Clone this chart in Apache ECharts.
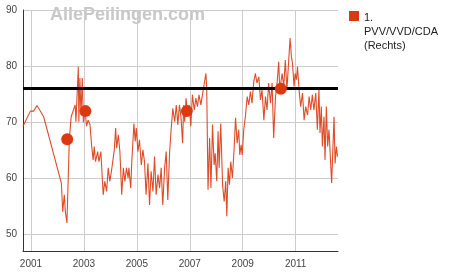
<!DOCTYPE html>
<html>
<head>
<meta charset="utf-8">
<script src="https://cdn.jsdelivr.net/npm/echarts@6/dist/echarts.min.js"></script>
<style>html,body{margin:0;padding:0;background:#fff}#c{width:450px;height:275px}</style>
</head>
<body>
<div id="c"></div>
<script>
const seriesName = "1.\nPVV/VVD/CDA\n(Rechts)";
const watermark = "AllePeilingen.com";
const yTicks = [50, 60, 70, 80, 90];
const xTicks = [2001, 2003, 2005, 2007, 2009, 2011];
const majorityLine = 76;
// poll series: [decimal year, seats]
const pollYears = [
2000.70,2000.98,2001.10,2001.23,2001.48,2002.15,2002.20,2002.26,2002.30,2002.36,2002.45,2002.52,2002.67,2002.70,
2002.79,2002.81,2002.85,2002.89,2002.94,2002.98,2003.04,2003.10,2003.16,2003.23,2003.29,2003.35,2003.39,2003.44,
2003.52,2003.57,2003.64,2003.73,2003.79,2003.86,2003.92,2003.98,2004.05,2004.11,2004.15,2004.20,2004.24,2004.30,
2004.36,2004.43,2004.49,2004.55,2004.61,2004.67,2004.70,2004.77,2004.81,2004.89,2004.94,2004.98,2005.04,2005.10,
2005.17,2005.23,2005.29,2005.35,2005.42,2005.48,2005.54,2005.61,2005.67,2005.73,2005.80,2005.86,2005.92,2005.98,
2006.05,2006.11,2006.17,2006.24,2006.30,2006.36,2006.43,2006.49,2006.55,2006.61,2006.67,2006.73,2006.77,2006.81,
2006.86,2006.92,2006.98,2007.04,2007.10,2007.17,2007.23,2007.29,2007.35,2007.42,2007.48,2007.54,2007.61,2007.64,
2007.69,2007.75,2007.80,2007.86,2007.92,2007.96,2008.02,2008.07,2008.11,2008.17,2008.24,2008.30,2008.36,2008.40,
2008.45,2008.50,2008.55,2008.61,2008.67,2008.73,2008.79,2008.85,2008.89,2008.94,2008.98,2009.04,2009.10,2009.17,
2009.23,2009.29,2009.35,2009.42,2009.48,2009.54,2009.61,2009.67,2009.73,2009.80,2009.86,2009.92,2009.98,2010.05,
2010.11,2010.17,2010.24,2010.30,2010.36,2010.40,2010.49,2010.55,2010.61,2010.67,2010.75,2010.79,2010.84,2010.88,
2010.94,2010.98,2011.03,2011.07,2011.13,2011.19,2011.26,2011.32,2011.38,2011.45,2011.51,2011.57,2011.63,2011.69,
2011.76,2011.82,2011.88,2011.92,2011.97,2012.01,2012.07,2012.11,2012.16,2012.21,2012.26,2012.31,2012.36,2012.41,
2012.45,2012.49,2012.54,2012.58
];
const pollSeats = [
69.3,72.0,72.0,73.0,71.0,59.2,54.1,57.1,54.1,52.1,67.0,71.0,73.1,70.1,
79.9,70.1,77.9,71.3,77.9,70.0,72.5,69.3,70.4,69.6,66.0,63.3,65.7,63.0,
64.8,63.0,64.8,57.1,59.5,57.7,61.9,59.5,61.6,61.9,65.1,69.0,65.4,67.8,
64.8,57.1,61.9,59.5,61.9,60.1,61.9,58.3,63.0,69.8,66.6,69.0,64.8,66.9,
62.4,65.1,63.0,57.1,62.7,55.3,61.3,57.7,63.9,57.1,60.7,58.3,61.9,55.3,
61.9,64.8,56.2,64.8,69.0,72.5,70.1,73.1,69.6,73.1,70.8,66.3,73.1,70.1,
74.3,71.3,73.1,69.3,74.9,72.2,74.3,72.8,74.9,73.1,74.9,76.7,78.7,76.1,
58.0,67.2,58.3,69.6,62.4,64.5,59.5,68.4,61.9,69.8,58.9,55.9,59.5,53.3,
61.9,58.9,63.0,60.1,64.8,70.8,66.3,68.7,64.2,66.0,64.2,68.7,71.0,74.6,
73.1,75.5,73.4,77.3,78.7,77.0,78.1,74.0,75.8,70.4,74.6,72.2,77.0,73.4,
77.0,67.2,74.6,77.0,80.8,75.8,78.7,76.4,81.1,75.8,82.0,85.0,81.7,80.5,
76.4,78.7,77.6,79.9,75.8,72.8,75.2,70.4,72.8,71.3,74.6,72.2,74.9,72.2,
75.2,68.7,75.8,68.1,72.8,65.7,71.0,63.3,72.8,65.7,68.7,63.9,59.2,65.7,
71.0,62.7,65.7,63.9
];
// election results
const electionYears = [2002.37, 2003.06, 2006.89, 2010.44];
const electionSeats = [67, 72, 72, 76];

const red = '#dc3912';
const chart = echarts.init(document.getElementById('c'), null, {renderer: 'canvas'});
chart.setOption({
  animation: false,
  grid: {left: 23, right: 112, top: 10, bottom: 24},
  xAxis: {
    type: 'value', min: 2000.7, max: 2012.6,
    axisLine: {show: true, onZero: false, lineStyle: {color: '#333', width: 1}},
    axisTick: {show: false, customValues: xTicks},
    axisLabel: {customValues: xTicks, formatter: v => String(Math.round(v)), color: '#444', fontSize: 10, fontFamily: 'Liberation Sans, Arial', margin: 8},
    splitLine: {show: true, lineStyle: {color: '#ccc', width: 1}}
  },
  yAxis: {
    type: 'value', min: 47.1, max: 90,
    axisLine: {show: true, onZero: false, lineStyle: {color: '#333', width: 1}},
    axisTick: {show: false, customValues: yTicks},
    axisLabel: {customValues: yTicks, color: '#444', fontSize: 10, fontFamily: 'Liberation Sans, Arial', margin: 6},
    splitLine: {show: true, lineStyle: {color: '#ccc', width: 1}}
  },
  graphic: [
    {type: 'text', left: 50, top: 6, z: 0, style: {text: watermark, font: 'bold 18px "Liberation Sans", Arial', fill: '#c8c8c8'}},
    {type: 'rect', left: 349, top: 11, shape: {width: 10, height: 10}, style: {fill: red}},
    {type: 'text', left: 364, top: 11, style: {text: seriesName, font: '11px "Liberation Sans", Arial', fill: '#222', lineHeight: 14}}
  ],
  series: [
    {
      name: seriesName, type: 'line', symbol: 'none', z: 2,
      data: pollYears.map((y, i) => [y, pollSeats[i]]),
      lineStyle: {color: red, width: 1.1, opacity: 0.9},
      markLine: {
        silent: true, symbol: 'none', label: {show: false},
        lineStyle: {color: '#000', width: 3, type: 'solid'},
        data: [{yAxis: majorityLine}]
      }
    },
    {
      type: 'scatter', z: 5, symbolSize: 12,
      itemStyle: {color: red, opacity: 1},
      data: electionYears.map((y, i) => [y, electionSeats[i]])
    }
  ]
});
</script>
</body>
</html>
